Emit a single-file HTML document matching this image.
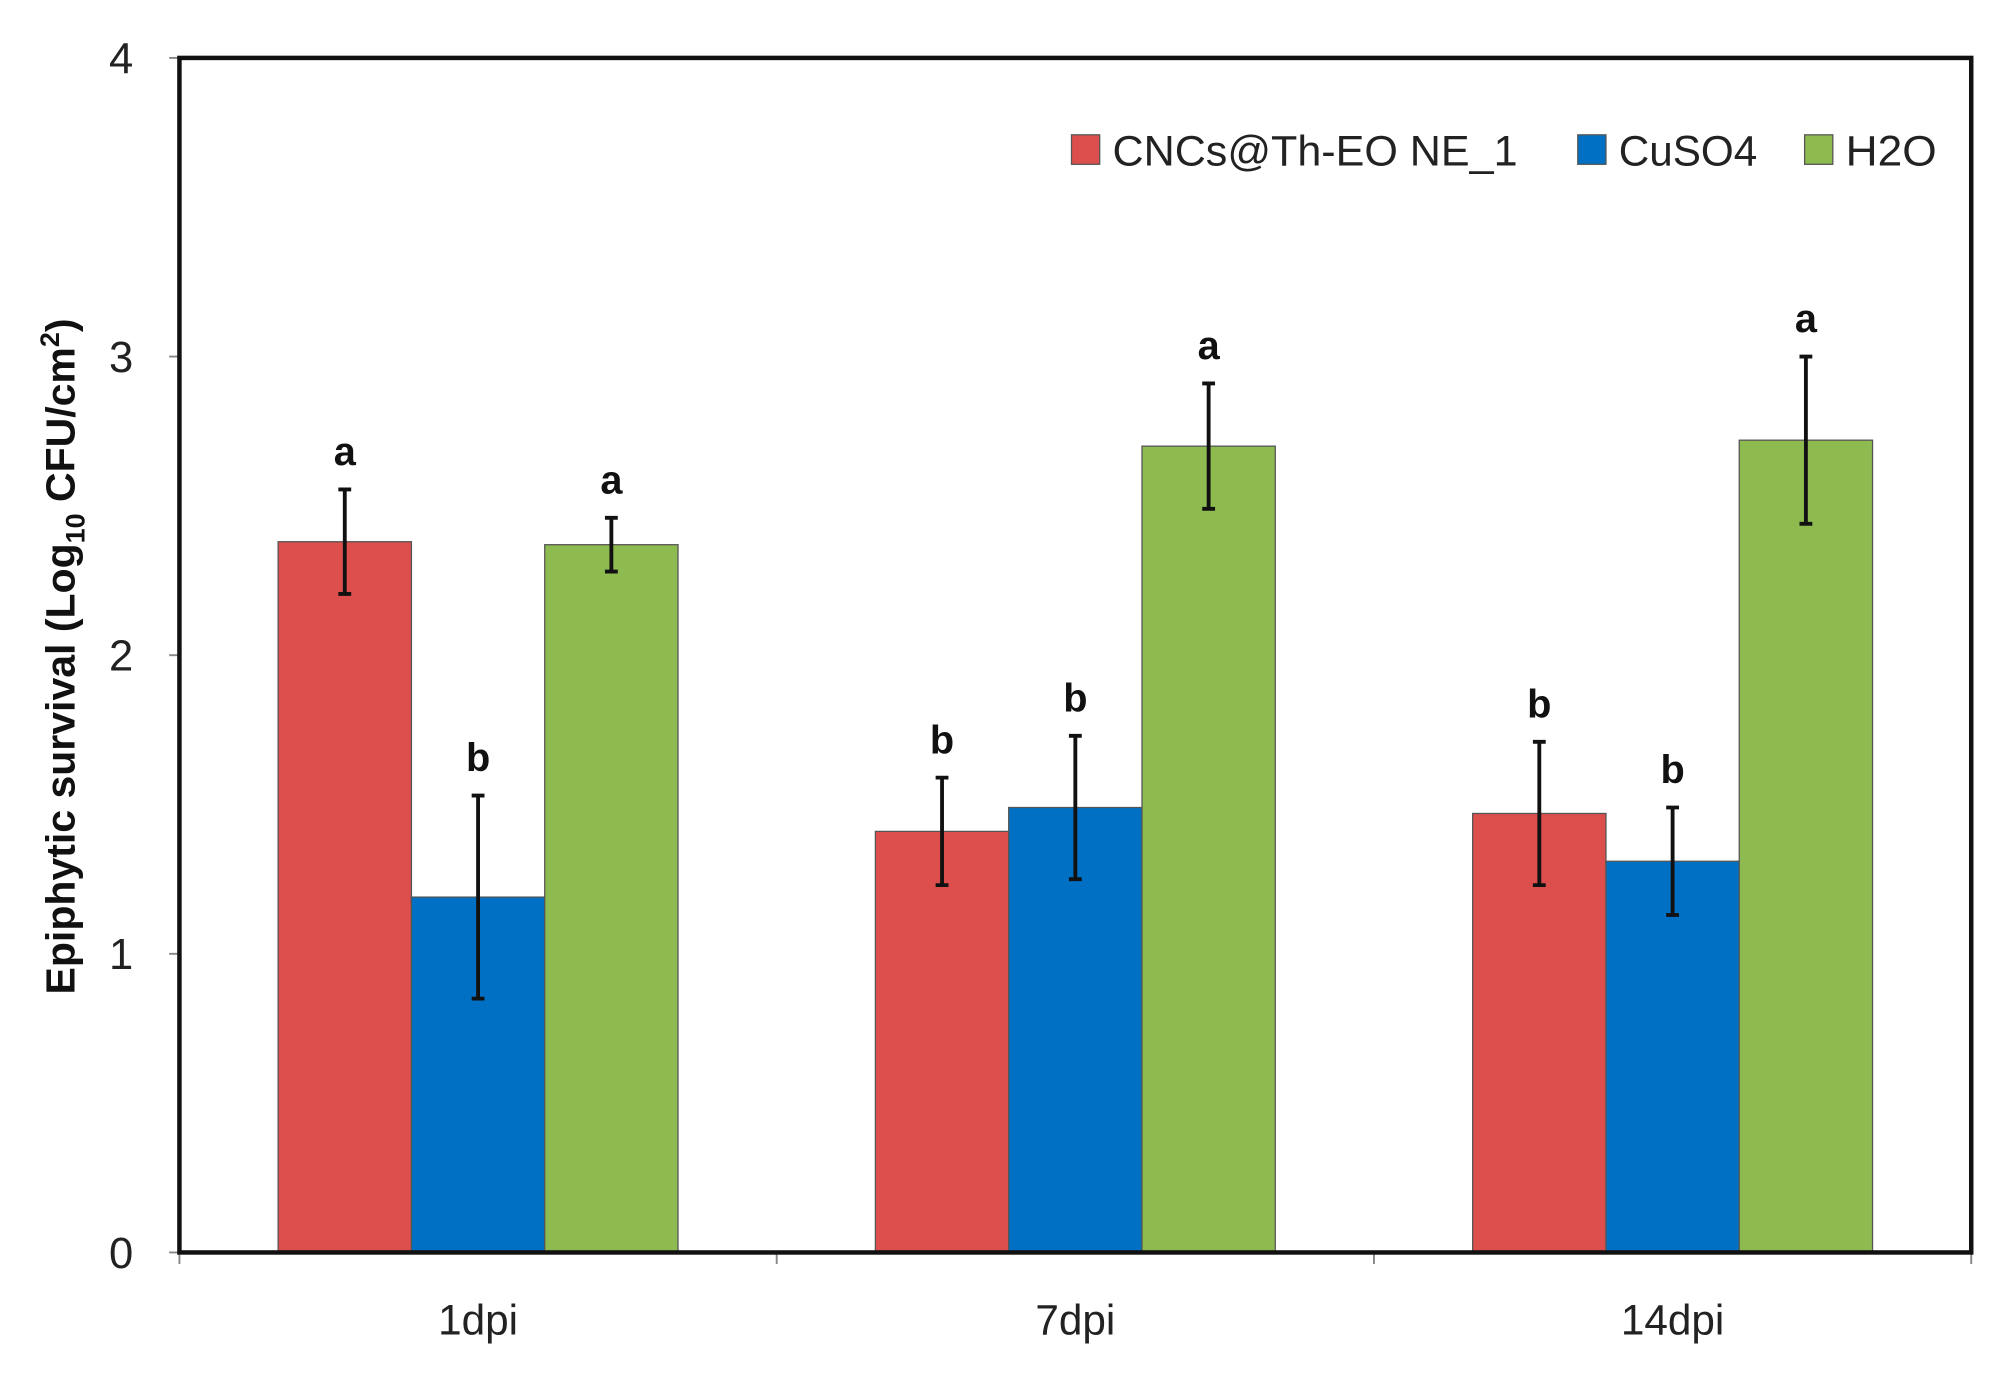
<!DOCTYPE html>
<html><head><meta charset="utf-8"><style>
html,body{margin:0;padding:0;background:#fff;}
svg{display:block;font-family:"Liberation Sans",sans-serif;}
</style></head><body>
<svg id="chart" width="2002" height="1386" viewBox="0 0 1562 1081" xmlns="http://www.w3.org/2000/svg">
<rect x="0" y="0" width="1562" height="1081" fill="#fff"/>
<g id="plot"></g>
</svg>
<script>
const categories = ["1dpi","7dpi","14dpi"];
const seriesNames = ["CNCs@Th-EO NE_1","CuSO4","H2O"];
const redValues = [2.38, 1.41, 1.47];
const blueValues = [1.19, 1.49, 1.31];
const greenValues = [2.37, 2.70, 2.72];
const redErr = [0.175, 0.18, 0.24];
const blueErr = [0.34, 0.24, 0.18];
const greenErr = [0.09, 0.21, 0.28];
const redLetters = ["a","b","b"];
const blueLetters = ["b","b","b"];
const greenLetters = ["a","a","a"];
const yTicks = [0,1,2,3,4];

const NS="http://www.w3.org/2000/svg";
const g=document.getElementById('plot');
const L=140,R=1538,T=45,B=977,yMax=4;
const y=v=>B-(v/yMax)*(B-T);
const catW=(R-L)/categories.length;
const xc=i=>L+catW*(i+0.5);
const barW=104;
function mk(tag,attrs,text){const e=document.createElementNS(NS,tag);for(const k in attrs)e.setAttribute(k,attrs[k]);if(text!==undefined)e.textContent=text;g.appendChild(e);return e;}

yTicks.forEach(t=>{
  const tk=mk('line',{x1:L-8,x2:L,y1:y(t),y2:y(t),stroke:'#888','stroke-width':1.5});
  
  
  const lb=mk('text',{x:104,y:y(t)+12,'text-anchor':'end','font-size':34,fill:'#222'},String(t));
  
  
});
for(let i=0;i<=categories.length;i++){
  const tk=mk('line',{x1:L+catW*i,x2:L+catW*i,y1:B,y2:B+9,stroke:'#888','stroke-width':1.5});
  
  
}
categories.forEach((c,i)=>{
  const lb=mk('text',{x:xc(i),y:1041,'text-anchor':'middle','font-size':33,fill:'#222'},c);
  
  
});

const series=[
 {vals:redValues,err:redErr,let:redLetters,color:'#dd4f4d',name:'red'},
 {vals:blueValues,err:blueErr,let:blueLetters,color:'#0070c4',name:'blue'},
 {vals:greenValues,err:greenErr,let:greenLetters,color:'#8dbb50',name:'green'}
];
series.forEach((s,si)=>{
  categories.forEach((c,i)=>{
    const x0=xc(i)+(si-1.5)*barW;
    const r=mk('rect',{x:x0,y:y(s.vals[i]),width:barW,height:B-y(s.vals[i]),fill:s.color,stroke:'#555','stroke-width':1});
    
    
    const cx=x0+barW/2, hi=y(s.vals[i]+s.err[i]), lo=y(s.vals[i]-s.err[i]);
    const e=mk('path',{d:`M${cx},${hi}V${lo}M${cx-5},${hi}H${cx+5}M${cx-5},${lo}H${cx+5}`,stroke:'#111','stroke-width':3,fill:'none'});
    
    
    const t=mk('text',{x:cx,y:hi-19,'text-anchor':'middle','font-size':31,'font-weight':'bold',fill:'#111'},s.let[i]);
    
    
  });
});
const fr=mk('rect',{x:L,y:T,width:R-L,height:B-T,fill:'none',stroke:'#111','stroke-width':3.5});



const legX=[836,1231,1408];
seriesNames.forEach((n,i)=>{
  const sq=mk('rect',{x:legX[i],y:105,width:22,height:23,fill:series[i].color,stroke:'#555','stroke-width':1});
  
  
  const t=mk('text',{x:legX[i]+32,y:129,'font-size':33,fill:'#222',textLength:[316,108,71][i],lengthAdjust:'spacingAndGlyphs'},n);
  
  
});
const yt=mk('text',{x:0,y:0,transform:'translate(58,512) rotate(-90)','text-anchor':'middle','font-size':32,'font-weight':'bold',fill:'#111'});


yt.innerHTML='Epiphytic survival (Log<tspan font-size="21" dy="8">10</tspan><tspan dy="-8"> CFU/cm</tspan><tspan font-size="21" dy="-12">2</tspan><tspan dy="12">)</tspan>';
</script>
</body></html>
